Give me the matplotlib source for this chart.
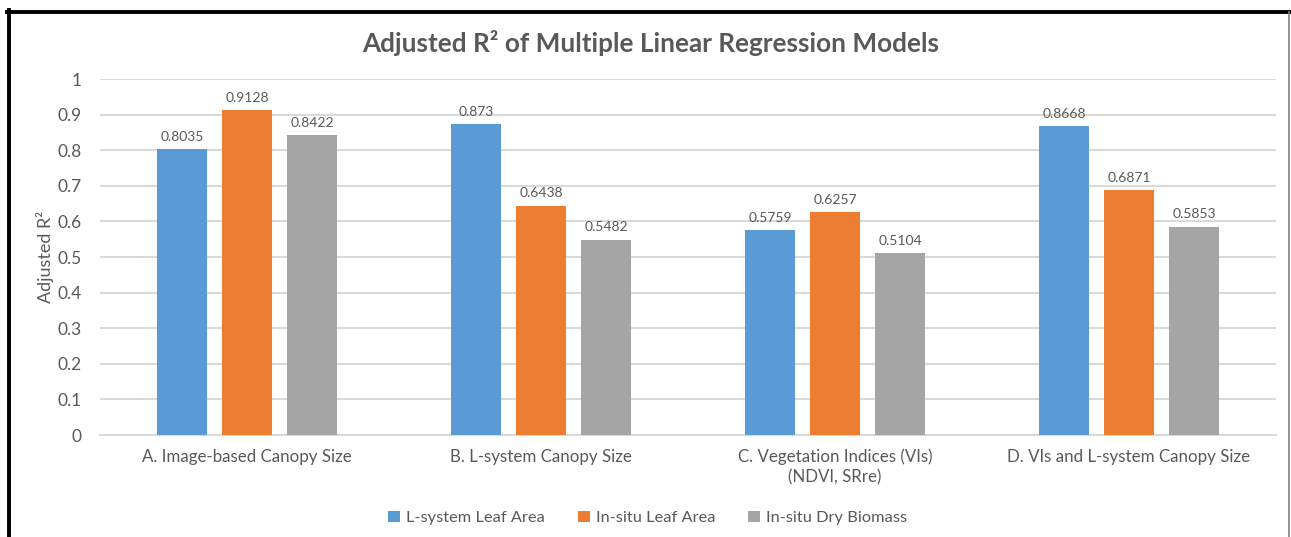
import matplotlib
matplotlib.use("Agg")
import matplotlib.pyplot as plt
from matplotlib.lines import Line2D
import numpy as np

plt.rcParams['font.family'] = ['Lato', 'DejaVu Sans']

categories = ["A. Image-based Canopy Size", "B. L-system Canopy Size",
              "C. Vegetation Indices (VIs)\n(NDVI, SRre)", "D. VIs and L-system Canopy Size"]
series_names = ["L-system Leaf Area", "In-situ Leaf Area", "In-situ Dry Biomass"]
lsys_leaf = [0.8035, 0.873, 0.5759, 0.8668]
insitu_leaf = [0.9128, 0.6438, 0.6257, 0.6871]
insitu_bio = [0.8422, 0.5482, 0.5104, 0.5853]
colors = ["#5B9BD5", "#ED7D31", "#A5A5A5"]
yticks = np.arange(0, 1.01, 0.1)
ytick_labels = ["0", "0.1", "0.2", "0.3", "0.4", "0.5", "0.6", "0.7", "0.8", "0.9", "1"]

W, H = 1291, 537
fig = plt.figure(figsize=(W / 100, H / 100), dpi=100)
ax = fig.add_axes([100 / W, 1 - 435 / H, 1176 / W, 356 / H])

txt = "#595959"
x = np.arange(len(categories))
width = 0.173
step = 0.221
for i, (vals, name) in enumerate(zip([lsys_leaf, insitu_leaf, insitu_bio], series_names)):
    pos = x + (i - 1) * step
    ax.bar(pos, vals, width, color=colors[i], label=name, zorder=3)
    for p, v in zip(pos, vals):
        ax.text(p, v + 0.018, f"{v:g}", ha="center", va="bottom", fontsize=10, color=txt)

ax.set_xlim(-0.5, 3.5)
ax.set_ylim(0, 1)
ax.set_yticks(yticks)
ax.set_yticklabels(ytick_labels)
ax.set_xticks(x)
ax.set_xticklabels(categories, fontsize=12.2, color=txt, linespacing=1.3)
ax.tick_params(axis="y", length=0, pad=13, labelsize=12.5, labelcolor=txt)
ax.tick_params(axis="x", length=0, pad=10)
ax.grid(axis="y", color="#D9D9D9", linewidth=1.5, zorder=0)
for s in ["top", "right", "left"]:
    ax.spines[s].set_visible(False)
ax.spines["bottom"].set_color("#D9D9D9")
ax.spines["bottom"].set_linewidth(1.5)
ax.set_ylabel("Adjusted R²", fontsize=13, color=txt, labelpad=3)

fig.text(651 / W, 1 - 43 / H, "Adjusted R² of Multiple Linear Regression Models",
         ha="center", va="center", fontsize=18.8, fontweight="bold", color=txt)

fig.legend(loc="center", bbox_to_anchor=(648 / W, 1 - 518 / H), ncol=3, frameon=False,
           fontsize=11.8, labelcolor=txt, handlelength=0.7, handleheight=0.7,
           handletextpad=0.4, columnspacing=2.0)

# outer frame
fig.add_artist(Line2D([7 / W, 1290 / W], [1 - 11.5 / H] * 2, color="black", lw=2.8))
fig.add_artist(Line2D([9 / W] * 2, [0, 1 - 10 / H], color="black", lw=2.8))
fig.add_artist(Line2D([1289 / W] * 2, [0, 1 - 12 / H], color="#808080", lw=1.2))

fig.savefig("out.png", dpi=100)
